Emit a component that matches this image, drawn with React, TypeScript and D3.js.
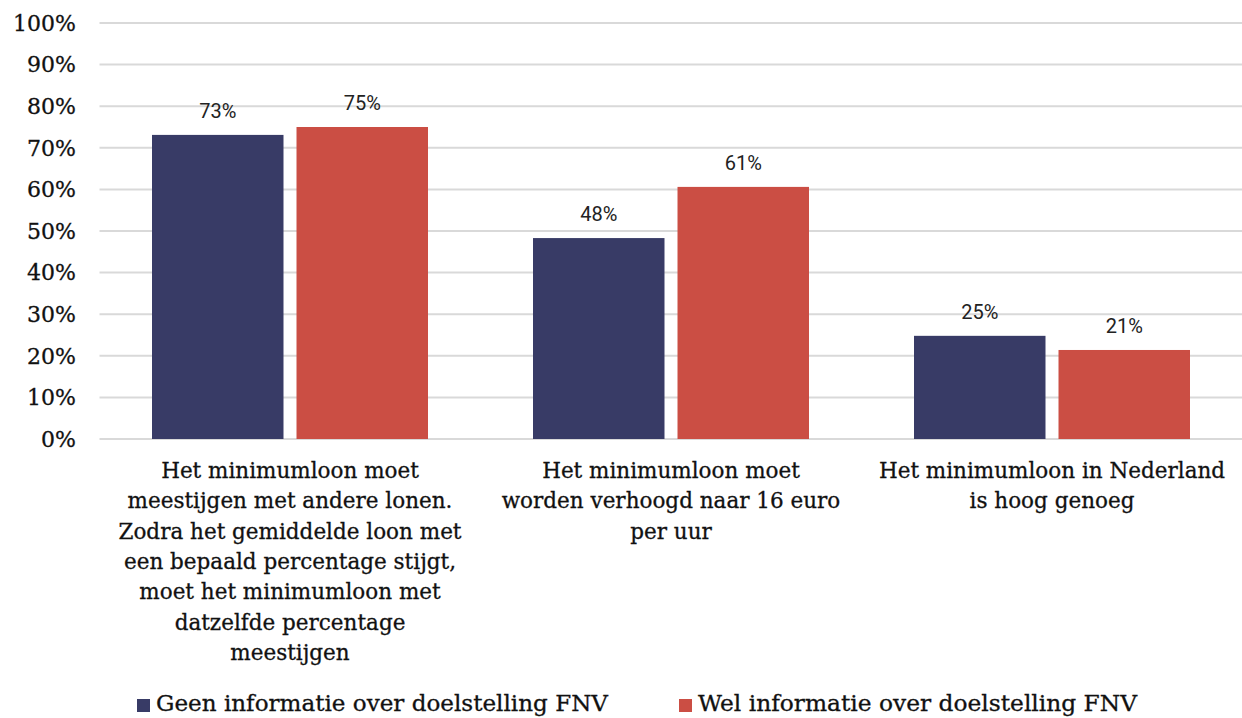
import React from 'react';
import * as d3 from 'd3';

const categories = [
  'Het minimumloon moet meestijgen met andere lonen. Zodra het gemiddelde loon met een bepaald percentage stijgt, moet het minimumloon met datzelfde percentage meestijgen',
  'Het minimumloon moet worden verhoogd naar 16 euro per uur',
  'Het minimumloon in Nederland is hoog genoeg',
];
const categoryLines = [
  ['Het minimumloon moet', 'meestijgen met andere lonen.', 'Zodra het gemiddelde loon met', 'een bepaald percentage stijgt,', 'moet het minimumloon met', 'datzelfde percentage', 'meestijgen'],
  ['Het minimumloon moet', 'worden verhoogd naar 16 euro', 'per uur'],
  ['Het minimumloon in Nederland', 'is hoog genoeg'],
];
const seriesNames = ['Geen informatie over doelstelling FNV', 'Wel informatie over doelstelling FNV'];
const geenValues = [73.1, 48.3, 24.8];
const welValues = [75.0, 60.6, 21.4];
const valueLabels = [['73%', '48%', '25%'], ['75%', '61%', '21%']];
const yTicks = [0, 10, 20, 30, 40, 50, 60, 70, 80, 90, 100];

const colors = ['#383b66', '#cb4e44'];
const serif = '"DejaVu Serif", "Liberation Serif", serif';
const sans = 'Roboto, "Noto Sans", sans-serif';

export default function App() {
  const W = 1242, H = 718;
  const left = 99.5, right = 1242.5, top = 23, bottom = 439;

  const x0 = d3.scaleBand<number>()
    .domain(categories.map((_, i) => i))
    .range([left, right])
    .paddingInner(0)
    .paddingOuter(0);
  const x1 = d3.scaleBand<number>()
    .domain([0, 1])
    .range([52.5, x0.bandwidth() - 52.5])
    .paddingInner(0.09);
  const y = d3.scaleLinear().domain([0, 100]).range([bottom, top]);

  const series = [geenValues, welValues];

  return (
    <svg width={W} height={H} style={{ position: 'absolute', left: 0, top: 0, background: '#fff' }}>
      {yTicks.map(t => (
        <g key={t}>
          <line x1={left} x2={W} y1={y(t)} y2={y(t)} stroke="#d9d9d9" strokeWidth={2} />
          <text x={76} y={y(t)} dy="0.35em" textAnchor="end" fontFamily={serif} fontSize={22}
            fill="#111" stroke="#111" strokeWidth={0.3}>
            {t}%
          </text>
        </g>
      ))}
      {categories.map((_, ci) => (
        <g key={ci} transform={`translate(${x0(ci)},0)`}>
          {series.map((vals, si) => (
            <g key={si}>
              <rect
                x={x1(si)}
                y={y(vals[ci])}
                width={x1.bandwidth()}
                height={bottom - y(vals[ci])}
                fill={colors[si]}
              />
              <text
                x={(x1(si) as number) + x1.bandwidth() / 2}
                y={y(vals[ci]) - 17}
                textAnchor="middle"
                fontFamily={sans}
                fontSize={20}
                fill="#222"
              >
                {valueLabels[si][ci]}
              </text>
            </g>
          ))}
          {categoryLines[ci].map((ln, li) => (
            <text
              key={li}
              x={x0.bandwidth() / 2}
              y={478 + li * 30.3}
              textAnchor="middle"
              fontFamily={serif}
              fontSize={21.5}
              fill="#111"
              stroke="#111"
              strokeWidth={0.3}
            >
              {ln}
            </text>
          ))}
        </g>
      ))}
      {seriesNames.map((name, si) => {
        const lx = [137, 679][si];
        const tl = [452, 439][si];
        return (
          <g key={si}>
            <rect x={lx} y={699} width={13} height={13} fill={colors[si]} />
            <text
              x={lx + 19}
              y={711}
              fontFamily={serif}
              fontSize={22}
              fill="#111"
              stroke="#111"
              strokeWidth={0.3}
              textLength={tl}
              lengthAdjust="spacingAndGlyphs"
            >
              {name}
            </text>
          </g>
        );
      })}
    </svg>
  );
}
